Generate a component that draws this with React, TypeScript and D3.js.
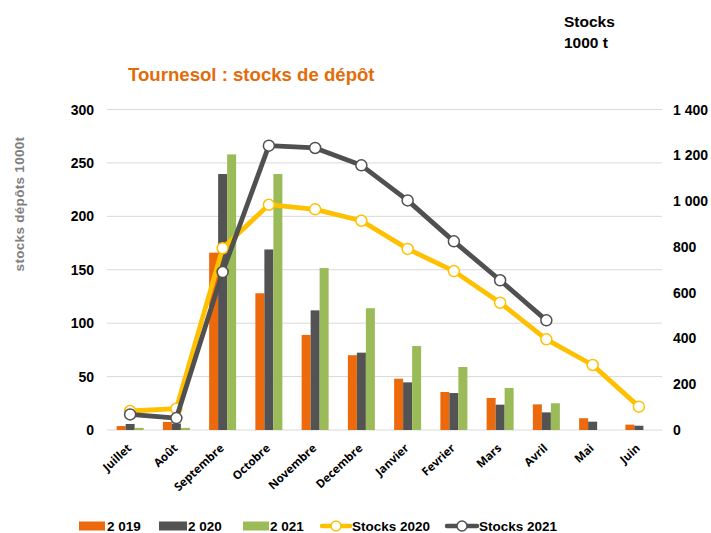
import React from "react";
import * as d3 from "d3";

const months = ["Juillet", "Août", "Septembre", "Octobre", "Novembre", "Decembre", "Janvier", "Fevrier", "Mars", "Avril", "Mai", "Juin"];
const depot2019 = [3.7, 7.5, 166, 128, 89, 70, 48, 35.6, 30, 24, 11, 5];
const depot2020 = [5.6, 6, 239.6, 169, 112, 72.4, 44.6, 34.6, 23.7, 16.5, 7.8, 4];
const depot2021 = [2, 2, 258, 239.6, 151.6, 114, 78.6, 59, 39.3, 25, null, null];
const stocks2020 = [83, 93, 794, 984, 964, 914, 791, 694, 556, 396, 284, 102];
const stocks2021 = [68, 52, 690, 1242, 1232, 1156, 1003, 824, 654, 479, null, null];
const leftTicks = [0, 50, 100, 150, 200, 250, 300];
const rightTicks = [0, 200, 400, 600, 800, 1000, 1200, 1400];
const barSeries = ["2 019", "2 020", "2 021"];
const lineSeries = ["Stocks 2020", "Stocks 2021"];

const COLORS = { o: "#EC6A0C", d: "#535353", g: "#9BBB59", y: "#FFC000", line21: "#505050" };

export default function App() {
  const W = 711, H = 533;
  const x0 = 107, x1 = 662, yTop = 109.5, yBot = 430;
  const x = d3.scaleBand<string>().domain(months).range([x0, x1]).paddingInner(0).paddingOuter(0);
  const groupW = 27;
  const xs = d3.scaleBand<string>().domain(["a", "b", "c"]).range([0, groupW]).padding(0);
  const yL = d3.scaleLinear().domain([0, 300]).range([yBot, yTop]);
  const yR = d3.scaleLinear().domain([0, 1400]).range([yBot, yTop]);
  const cx = (m: string) => (x(m) as number) + x.bandwidth() / 2;
  const fmtR = (v: number) => d3.format(",")(v).replace(/,/g, " ");

  const barSets: { key: string; vals: (number | null)[]; color: string }[] = [
    { key: "a", vals: depot2019, color: COLORS.o },
    { key: "b", vals: depot2020, color: COLORS.d },
    { key: "c", vals: depot2021, color: COLORS.g },
  ];
  const lineSets = [
    { vals: stocks2020, color: COLORS.y },
    { vals: stocks2021, color: COLORS.line21 },
  ];
  const lineGen = d3
    .line<[number, number | null]>()
    .defined((d) => d[1] != null)
    .x((d) => d[0])
    .y((d) => yR(d[1] as number));

  const bold = "'Liberation Sans', Arial, sans-serif";

  return (
    <svg width={W} height={H} style={{ position: "absolute", left: 0, top: 0, background: "#fff" }} fontFamily={bold}>
      <rect x={0} y={0} width={W} height={H} fill="#fff" />
      {/* title */}
      <text x={128} y={81} fontSize={18.6} fontWeight="bold" fill="#E36C0A">Tournesol : stocks de dépôt</text>
      <text x={564} y={27} fontSize={15.5} fontWeight="bold" fill="#000">Stocks</text>
      <text x={564} y={48} fontSize={15.5} fontWeight="bold" fill="#000">1000 t</text>
      {/* y title */}
      <text transform={`translate(24,204) rotate(-90)`} textAnchor="middle" fontSize={13.5} fontWeight="bold" fill="#7F7F7F" letterSpacing={0.3}>stocks dépôts 1000t</text>
      {/* grid */}
      {leftTicks.map((t) => (
        <line key={t} x1={x0} x2={x1} y1={yL(t)} y2={yL(t)} stroke="#D9D9D9" strokeWidth={1} />
      ))}
      {leftTicks.map((t) => (
        <text key={"l" + t} x={94} y={yL(t) + 5} textAnchor="end" fontSize={14} fontWeight="bold" fill="#000">{t}</text>
      ))}
      {rightTicks.map((t) => (
        <text key={"r" + t} x={673} y={yR(t) + 5} textAnchor="start" fontSize={14} fontWeight="bold" fill="#000">{fmtR(t)}</text>
      ))}
      {/* bars */}
      {barSets.map((s) =>
        months.map((m, i) => {
          const v = s.vals[i];
          if (v == null) return null;
          const bx = cx(m) - groupW / 2 + (xs(s.key) as number);
          return <rect key={s.key + m} x={bx} y={yL(v)} width={xs.bandwidth()} height={yBot - yL(v)} fill={s.color} />;
        })
      )}
      {/* lines */}
      {lineSets.map((s, k) => {
        const pts: [number, number | null][] = months.map((m, i) => [cx(m), s.vals[i]]);
        return (
          <g key={k}>
            <path d={lineGen(pts) || ""} fill="none" stroke={s.color} strokeWidth={4.8} strokeLinejoin="round" strokeLinecap="round" />
            {pts.filter((p) => p[1] != null).map((p, i) => (
              <circle key={i} cx={p[0]} cy={yR(p[1] as number)} r={5.5} fill="#fff" stroke={s.color} strokeWidth={1.5} />
            ))}
          </g>
        );
      })}
      {/* x labels */}
      {months.map((m) => (
        <text key={"x" + m} transform={`translate(${cx(m) + 2},449) rotate(-43)`} textAnchor="end" fontSize={11.5} fontWeight="bold" fontFamily="'Open Sans', sans-serif" fill="#000">{m}</text>
      ))}
      {/* legend */}
      <g fontSize={13.5} fontWeight="bold" fill="#000">
        <rect x={79} y={521.5} width={26} height={9} fill={COLORS.o} />
        <text x={107} y={531}>{barSeries[0]}</text>
        <rect x={159} y={521.5} width={28} height={9} fill={COLORS.d} />
        <text x={188} y={531}>{barSeries[1]}</text>
        <rect x={243} y={521.5} width={26} height={9} fill={COLORS.g} />
        <text x={270} y={531}>{barSeries[2]}</text>
        <line x1={322} x2={350} y1={526} y2={526} stroke={COLORS.y} strokeWidth={4.5} strokeLinecap="round" />
        <circle cx={336} cy={526} r={5} fill="#fff" stroke={COLORS.y} strokeWidth={1.5} />
        <text x={352} y={531}>{lineSeries[0]}</text>
        <line x1={447} x2={477} y1={526} y2={526} stroke={COLORS.line21} strokeWidth={4.5} strokeLinecap="round" />
        <circle cx={462} cy={526} r={5} fill="#fff" stroke={COLORS.line21} strokeWidth={1.5} />
        <text x={479} y={531}>{lineSeries[1]}</text>
      </g>
    </svg>
  );
}
